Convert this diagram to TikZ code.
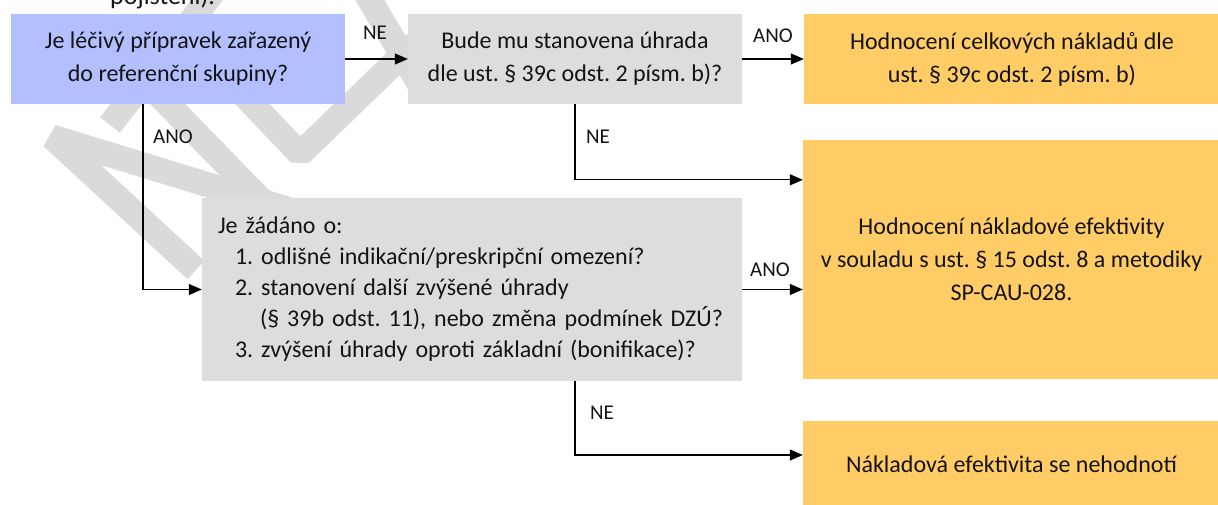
\documentclass[tikz,border=0pt]{standalone}
\usepackage{fontspec}
\setmainfont{Carlito}
\usetikzlibrary{arrows.meta,calc}
\definecolor{bluebox}{RGB}{180,191,255}
\definecolor{greybox}{RGB}{221,221,221}
\definecolor{orangebox}{RGB}{255,204,102}
\definecolor{wmark}{RGB}{218,218,218}
\definecolor{txt}{RGB}{20,20,20}
\begin{document}
\frenchspacing
\begin{tikzpicture}[x=1pt,y=-1pt,
  box/.style={rectangle, inner sep=0pt, text=txt, align=center, font=\fontsize{24}{33}\selectfont},
  lbl/.style={inner sep=0pt, text=txt, font=\fontsize{21}{24}\selectfont},
  arr/.style={-{Triangle[length=13pt,width=11pt]}, line width=1.2pt, black},
  wm/.style={line width=25pt, wmark, line join=bevel}]
\useasboundingbox (0,0) rectangle (1218,505);
\clip (0,0) rectangle (1218,505);
% watermark strokes
\draw[wm] (196,270) -- (52,137) -- (300,213);
\draw[wm] (120,55) -- (300,240);
\draw[wm] (220,70) -- (300,154) -- (415,43);
\draw[wm] (358,-20) -- (420,85);
\draw[wm] (110,125) -- (215,-10);
% top text (cut off as in the reference)
\node[anchor=base west, inner sep=0pt, text=txt, font=\fontsize{26}{30}\selectfont] (toptext) at (110,5) {pojištění).};
% boxes
\node[box, fill=bluebox, minimum width=334pt, minimum height=90pt] (blue) at (178,59) {Je léčivý přípravek zařazený\\do referenční skupiny?};
\node[box, fill=greybox, minimum width=334pt, minimum height=90pt] (bude) at (575,59) {Bude mu stanovena úhrada\\dle ust. § 39c odst. 2 písm. b)?};
\node[box, fill=orangebox, minimum width=416pt, minimum height=90pt] (or1) at (1012,59) {Hodnocení celkových nákladů dle\\ust. § 39c odst. 2 písm. b)};
\node[box, fill=orangebox, minimum width=417pt, minimum height=239pt] (or2) at (1011.5,259.5) {Hodnocení nákladové efektivity\\v souladu s ust. § 15 odst. 8 a metodiky\\SP-CAU-028.};
\node[box, fill=greybox, minimum width=540pt, minimum height=183pt, text width=508pt, align=left, font=\fontsize{24}{31}\selectfont] (zad) at (472,289.5) {\mbox{Je žádáno o:}\\\mbox{\hspace*{17pt}1. odlišné indikační/preskripční omezení?}\\\mbox{\hspace*{17pt}2. stanovení další zvýšené úhrady}\\\mbox{\hspace*{42pt}(§ 39b odst. 11), nebo změna podmínek DZÚ?}\\\mbox{\hspace*{17pt}3. zvýšení úhrady oproti základní (bonifikace)?}};
\node[box, fill=orangebox, minimum width=417pt, minimum height=86pt] (or3) at (1011.5,464) {Nákladová efektivita se nehodnotí};
% connectors
\draw[arr] (blue.east) -- (bude.west);
\draw[arr] (bude.east) -- (or1.west);
\draw[arr] (bude.south) |- ([yshift=-40pt]or2.north west);
\draw[arr] ([xshift=-35pt]blue.south) |- (zad.west);
\draw[arr] (zad.east) -- (zad.east -| or2.west);
\draw[arr] (zad.south -| bude.south) |- ([yshift=9pt]or3.west);
% labels
\node[lbl] (l1) at (375,33) {NE};
\node[lbl] (l2) at (773,36) {ANO};
\node[lbl] (l3) at (173,137) {ANO};
\node[lbl] (l4) at (598,137) {NE};
\node[lbl] (l5) at (770,270) {ANO};
\node[lbl] (l6) at (602,413) {NE};
\end{tikzpicture}
\end{document}
